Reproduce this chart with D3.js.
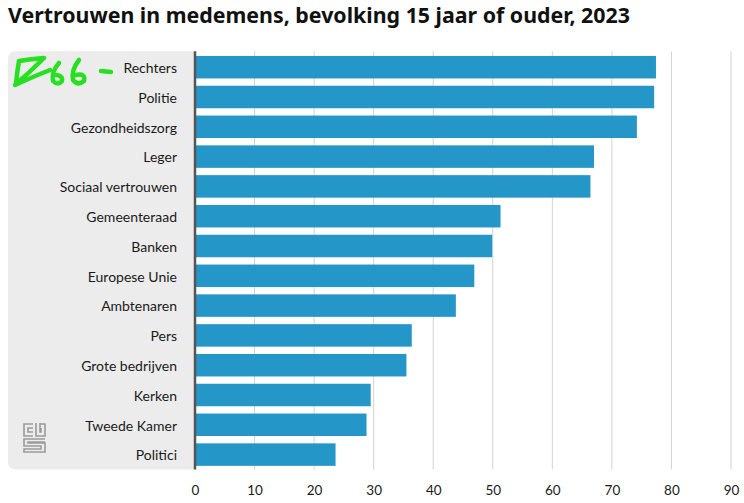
<!DOCTYPE html>
<html>
<head>
<meta charset="utf-8">
<script src="https://cdn.jsdelivr.net/npm/d3@7"></script>
<style>
  html, body { margin: 0; padding: 0; background: #fff; }
  svg { display: block; }
</style>
</head>
<body>
<div id="chart"></div>
<script>
const categories = [
  'Rechters', 'Politie', 'Gezondheidszorg', 'Leger', 'Sociaal vertrouwen',
  'Gemeenteraad', 'Banken', 'Europese Unie', 'Ambtenaren', 'Pers',
  'Grote bedrijven', 'Kerken', 'Tweede Kamer', 'Politici'
];
const values = [77.4, 77.1, 74.2, 67.0, 66.4, 51.3, 49.9, 46.9, 43.8, 36.4, 35.5, 29.5, 28.8, 23.6];
const xTicks = [0, 10, 20, 30, 40, 50, 60, 70, 80, 90];
const title = 'Vertrouwen in medemens, bevolking 15 jaar of ouder, 2023';

const width = 744;
const height = 503;
const FONT = '"Noto Sans", "Open Sans", sans-serif';
const LABEL_FONT = 'Lato, "Noto Sans", sans-serif';
const BAR_COLOR = '#2596c8';

const svg = d3.select('#chart')
  .append('svg')
  .attr('width', width)
  .attr('height', height)
  .attr('viewBox', `0 0 ${width} ${height}`);

const x = d3.scaleLinear().domain([0, 90]).range([195, 731]);
const y = d3.scaleBand()
  .domain(categories)
  .range([52.3, 469.5])
  .paddingInner(0.245)
  .paddingOuter(0.1225);

const yTop = y.range()[0] - 1;
const yBottom = y.range()[1];

// Title, scaled to the reference width
const titleText = svg.append('text')
  .attr('x', 8)
  .attr('y', 23)
  .attr('font-family', FONT)
  .attr('font-weight', 700)
  .attr('font-size', 20)
  .attr('fill', '#111')
  .text(title);
const titleLen = titleText.node().getComputedTextLength();
titleText.attr('font-size', 20 * 622 / titleLen);

// Grey label panel (rounded on the left only)
const px0 = 8, px1 = x(0), r = 8;
svg.append('path')
  .attr('d', `M${px1},${yTop} L${px0 + r},${yTop} Q${px0},${yTop} ${px0},${yTop + r} L${px0},${yBottom - r} Q${px0},${yBottom} ${px0 + r},${yBottom} L${px1},${yBottom} Z`)
  .attr('fill', '#ececec');

// Gridlines
svg.append('g')
  .selectAll('line')
  .data(xTicks.slice(1))
  .join('line')
  .attr('x1', d => x(d))
  .attr('x2', d => x(d))
  .attr('y1', yTop)
  .attr('y2', yBottom)
  .attr('stroke', '#d2d2d2')
  .attr('stroke-width', 1);

// Bars
svg.append('g')
  .selectAll('rect')
  .data(categories)
  .join('rect')
  .attr('x', x(0))
  .attr('y', d => y(d))
  .attr('width', (d, i) => x(values[i]) - x(0))
  .attr('height', y.bandwidth())
  .attr('fill', BAR_COLOR);

// Baseline
svg.append('line')
  .attr('x1', x(0))
  .attr('x2', x(0))
  .attr('y1', yTop)
  .attr('y2', yBottom)
  .attr('stroke', '#555')
  .attr('stroke-width', 2.5);

// Category labels
const yAxis = svg.append('g')
  .attr('transform', `translate(${x(0)},0)`)
  .call(d3.axisLeft(y).tickSize(0).tickPadding(18));
yAxis.select('.domain').remove();
yAxis.selectAll('text')
  .attr('dy', '0.42em')
  .attr('font-family', LABEL_FONT)
  .attr('font-size', 14)
  .attr('fill', '#1a1a1a');

// Value axis
const xAxis = svg.append('g')
  .attr('transform', 'translate(0,482)')
  .call(d3.axisBottom(x).tickValues(xTicks).tickSize(0).tickPadding(3));
xAxis.select('.domain').remove();
xAxis.selectAll('text')
  .attr('font-family', LABEL_FONT)
  .attr('font-size', 13.5)
  .attr('fill', '#1a1a1a');

// CBS logo
const logo = svg.append('g')
  .attr('fill', 'none')
  .attr('stroke', '#9a9a9a')
  .attr('stroke-width', 1.6);
logo.append('path').attr('d', 'M33,424 L24,424 L24,436 L33,436 M33,428 L28,428 L28,432 L33,432');
logo.append('path').attr('d', 'M36,423 L36,436 L45,436 L45,424 L40,424 M40,423 L40,432 L41,432 L41,428');
logo.append('path').attr('d', 'M45,439 L24,439 L24,446 L41,446 L41,449 L24,449 L24,452 L45,452 L45,443 L28,443 L28,442 L45,442');

// Green handwritten mark
const scribble = svg.append('g')
  .attr('fill', 'none')
  .attr('stroke', '#27e01f')
  .attr('stroke-width', 4.5)
  .attr('stroke-linecap', 'round')
  .attr('stroke-linejoin', 'round');
scribble.append('path').attr('d', 'M16,84 Q17,72 19,61 Q31,59 44,58 Q30,72 15,85 Q30,78 50,70');
scribble.append('path').attr('d', 'M59,63 Q51,72 53,81 Q58,86 62,81 Q63,75 55,75');
scribble.append('path').attr('d', 'M79,60 Q71,70 73,80 Q78,86 84,81 Q86,73 76,75');
scribble.append('path').attr('d', 'M101,71 L111,72');
</script>
</body>
</html>
